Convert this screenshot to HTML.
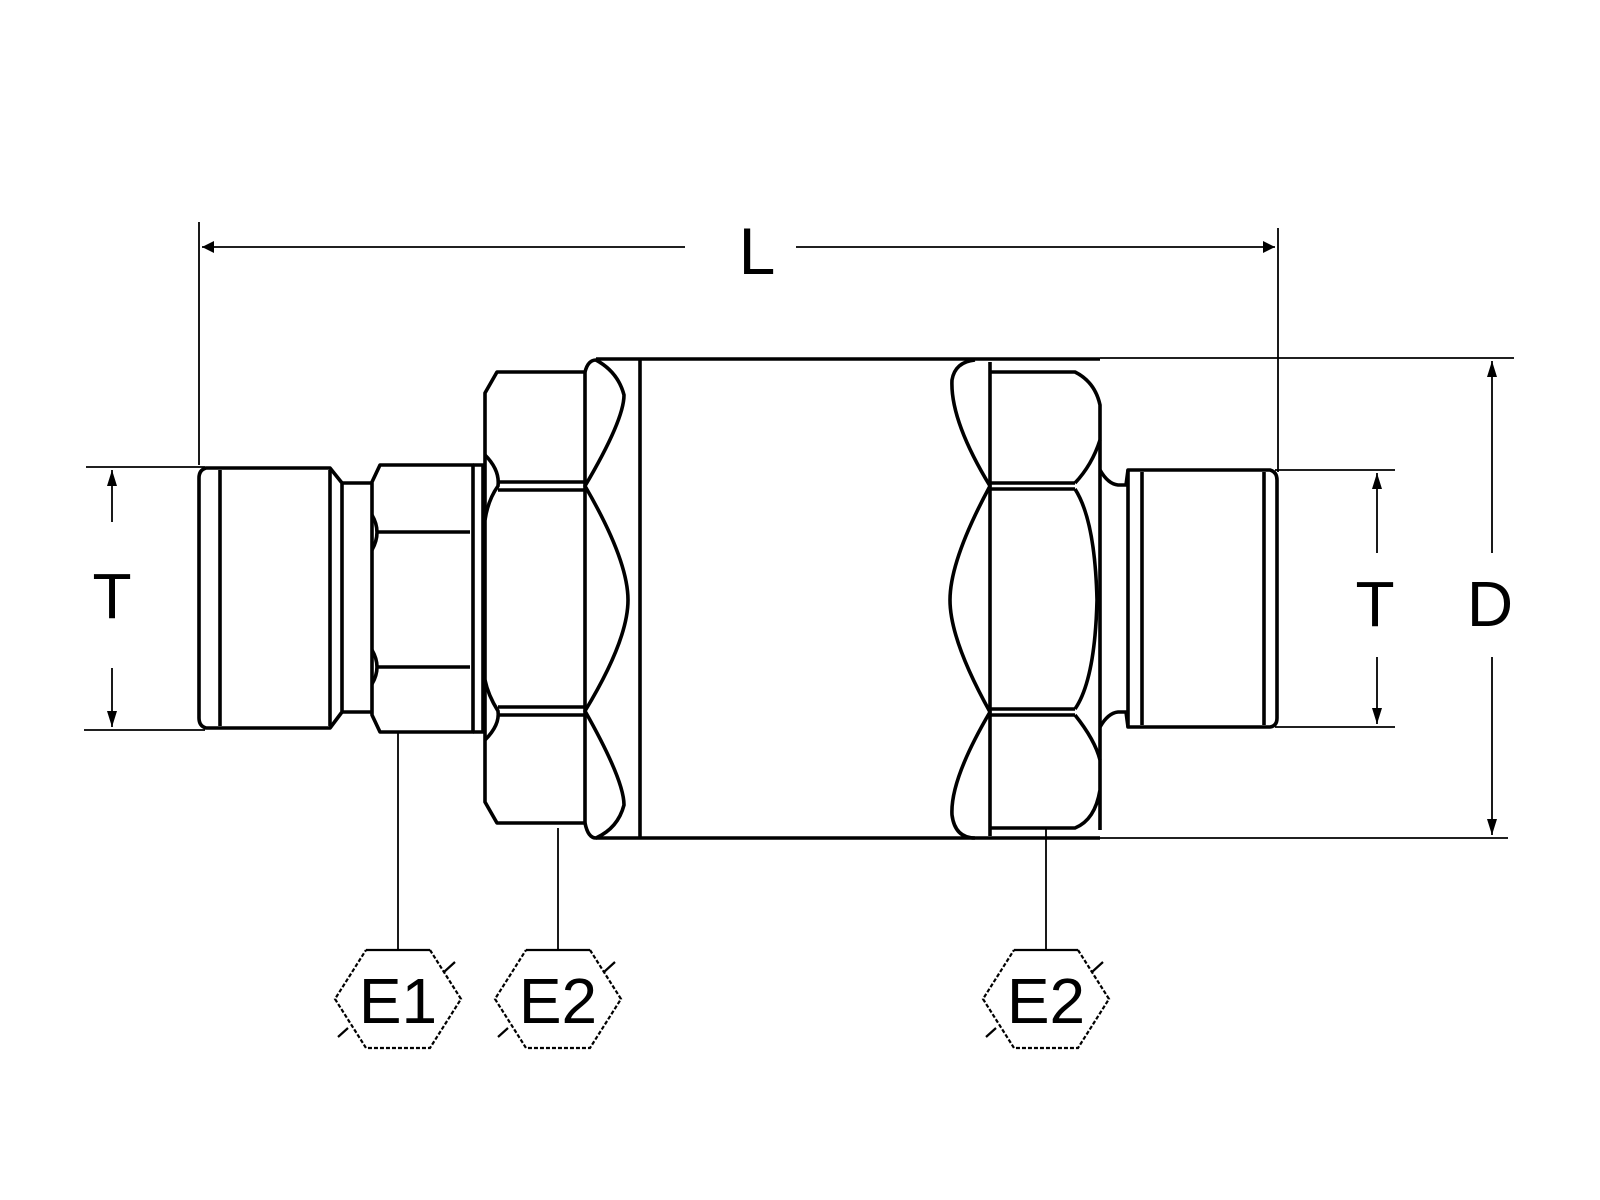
<!DOCTYPE html>
<html><head><meta charset="utf-8"><style>
html,body{margin:0;padding:0;background:#fff;}
svg{display:block;}
text{font-family:"Liberation Sans",sans-serif;fill:#000;}
</style></head><body>
<svg width="1600" height="1200" viewBox="0 0 1600 1200" xmlns="http://www.w3.org/2000/svg">
<g fill="none" stroke="#000" stroke-width="1.8">
  <line x1="199" y1="222" x2="199" y2="465"/>
  <line x1="1278" y1="228" x2="1278" y2="472"/>
  <line x1="202" y1="247" x2="685" y2="247"/>
  <line x1="796" y1="247" x2="1275" y2="247"/>
  <line x1="86" y1="467" x2="205" y2="467"/>
  <line x1="84" y1="730" x2="205" y2="730"/>
  <line x1="112" y1="470" x2="112" y2="522"/>
  <line x1="112" y1="668" x2="112" y2="727"/>
  <line x1="1275" y1="470" x2="1395" y2="470"/>
  <line x1="1275" y1="727" x2="1395" y2="727"/>
  <line x1="1377" y1="473" x2="1377" y2="553"/>
  <line x1="1377" y1="657" x2="1377" y2="724"/>
  <line x1="1100" y1="358" x2="1514" y2="358"/>
  <line x1="1100" y1="838" x2="1508" y2="838"/>
  <line x1="1492" y1="361" x2="1492" y2="553"/>
  <line x1="1492" y1="657" x2="1492" y2="835"/>
  <line x1="398" y1="732" x2="398" y2="950"/>
  <line x1="558" y1="828" x2="558" y2="950"/>
  <line x1="1046" y1="828" x2="1046" y2="950"/>
</g>
<g fill="#000">
  <polygon points="202,247 214,241 214,253"/>
  <polygon points="1275,247 1263,241 1263,253"/>
  <polygon points="112,470 107,486 117,486"/>
  <polygon points="112,727 107,711 117,711"/>
  <polygon points="1377,473 1372,489 1382,489"/>
  <polygon points="1377,724 1372,708 1382,708"/>
  <polygon points="1492,361 1487,377 1497,377"/>
  <polygon points="1492,835 1487,819 1497,819"/>
</g>
<g fill="none" stroke="#000" stroke-width="3.6" stroke-linejoin="round">
  <path d="M206,468 L330,468 L342,483 L342,712 L330,728 L206,728 Q199,726 199,718 L199,478 Q199,470 206,468 Z"/>
  <line x1="220" y1="470" x2="220" y2="726"/>
  <line x1="330" y1="470" x2="330" y2="726"/>
  <path d="M342,483 L372,483 M342,712 L372,712"/>
  <path d="M380,465 L473,465 L473,732 L380,732 L372,715 L372,482 Z"/>
  <path d="M378,532 L470,532 M378,667 L470,667"/>
  <path d="M372,515 Q382,532 372,550 M372,650 Q382,667 372,684"/>
  <path d="M473,465 L485,465 M473,732 L485,732"/>
  <line x1="483" y1="465" x2="483" y2="732"/>
  <path d="M485,393 L497,372 L585,372 L585,823 L497,823 L485,802 Z"/>
  <path d="M498,482 L585,482 M498,490 L585,490 M498,707 L585,707 M498,715 L585,715"/>
  <path d="M485,455 Q500,470 498,486 Q488,500 485,520"/>
  <path d="M485,680 Q488,695 498,711 Q500,725 485,740"/>
  <path d="M585,372 Q588,360 596,360 Q618,372 624,395 Q624,420 585,486 Q628,560 628,600 Q628,640 585,711 Q624,780 624,805 Q618,828 596,838 Q588,838 585,823"/>
  <path d="M596,359 L1100,359 M596,838 L1100,838"/>
  <line x1="640" y1="360" x2="640" y2="838"/>
  <path d="M990,372 L1075,372 Q1095,382 1100,405 L1100,830 M1100,790 Q1095,820 1075,828 L990,828"/>
  <line x1="990" y1="362" x2="990" y2="836"/>
  <path d="M990,483 L1075,483 M990,489 L1075,489 M990,709 L1075,709 M990,715 L1075,715"/>
  <path d="M1100,440 Q1092,465 1075,483 M1075,489 Q1095,520 1097,600 Q1095,680 1075,709 M1075,715 Q1095,740 1100,760"/>
  <path d="M975,360 Q955,362 952,380 Q950,420 990,486 Q950,560 950,600 Q950,640 990,712 Q950,780 952,815 Q955,838 975,838"/>
  <path d="M1100,470 Q1108,484 1118,485 L1126,485 L1128,470 M1100,727 Q1108,713 1118,712 L1126,712 L1128,727"/>
  <path d="M1128,470 L1270,470 Q1277,472 1277,480 L1277,718 Q1277,726 1270,727 L1128,727 Z"/>
  <line x1="1142" y1="472" x2="1142" y2="725"/>
  <line x1="1264" y1="472" x2="1264" y2="725"/>
</g>
<g fill="none" stroke="#000" stroke-width="2.2">
  <g transform="translate(398,0)">
    <line x1="-32" y1="950" x2="32" y2="950"/>
    <path d="M32,950 L63,999 L32,1048 L-32,1048 L-63,999 L-32,950" stroke-dasharray="4,2"/>
    <path d="M46,972 L57,962 M-50,1028 L-60,1037"/>
  </g>
  <g transform="translate(558,0)">
    <line x1="-32" y1="950" x2="32" y2="950"/>
    <path d="M32,950 L63,999 L32,1048 L-32,1048 L-63,999 L-32,950" stroke-dasharray="4,2"/>
    <path d="M46,972 L57,962 M-50,1028 L-60,1037"/>
  </g>
  <g transform="translate(1046,0)">
    <line x1="-32" y1="950" x2="32" y2="950"/>
    <path d="M32,950 L63,999 L32,1048 L-32,1048 L-63,999 L-32,950" stroke-dasharray="4,2"/>
    <path d="M46,972 L57,962 M-50,1028 L-60,1037"/>
  </g>
</g>
<g font-size="64" text-anchor="middle">
  <text x="398" y="1023">E1</text>
  <text x="558" y="1023">E2</text>
  <text x="1046" y="1023">E2</text>
  <text x="757" y="274" font-size="66">L</text>
  <text x="112" y="618">T</text>
  <text x="1375" y="626">T</text>
  <text x="1490" y="626">D</text>
</g>
</svg>
</body></html>
